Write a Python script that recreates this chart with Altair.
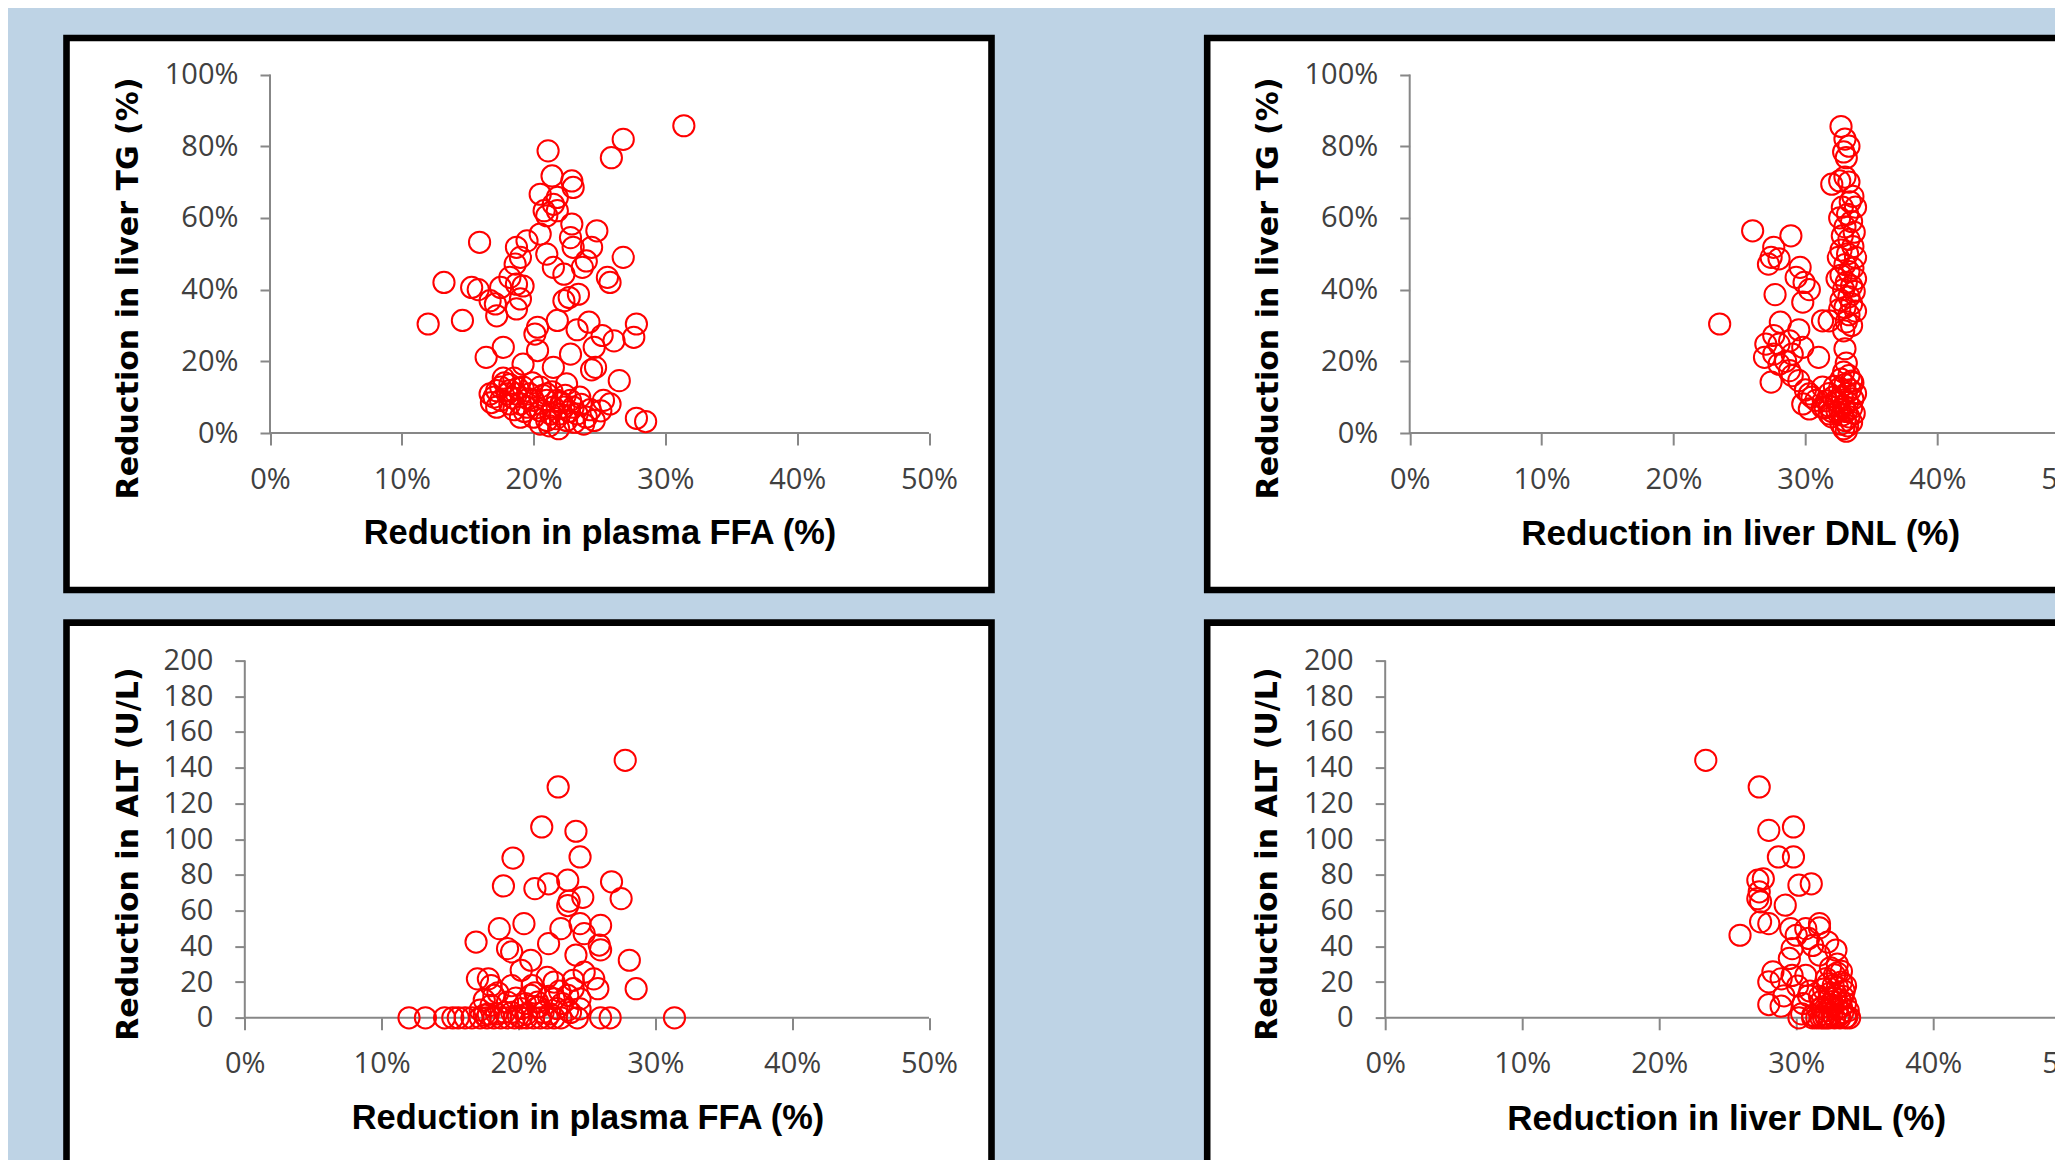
import altair as alt
import pandas as pd

# ---------------- data ----------------
# Panel 1: plasma FFA reduction vs liver TG reduction
ffa_tg_x = [0.314, 0.268, 0.259, 0.211, 0.214, 0.229, 0.230, 0.205, 0.218, 0.208,
            0.218, 0.215, 0.210, 0.248, 0.229, 0.228, 0.205, 0.244, 0.159, 0.268,
            0.187, 0.190, 0.186, 0.195, 0.210, 0.215, 0.223, 0.237, 0.240, 0.230,
            0.256, 0.258, 0.132, 0.153, 0.158, 0.175, 0.187, 0.192, 0.182, 0.167,
            0.171, 0.172, 0.187, 0.190, 0.223, 0.227, 0.234, 0.120, 0.146, 0.203,
            0.218, 0.242, 0.233, 0.278, 0.276, 0.261, 0.252, 0.246, 0.164, 0.177,
            0.203, 0.228, 0.247, 0.244, 0.215, 0.265, 0.192, 0.177, 0.182, 0.170,
            0.172, 0.187, 0.192, 0.200, 0.190, 0.205, 0.210, 0.218, 0.223, 0.225,
            0.219, 0.233, 0.240, 0.251, 0.258, 0.235, 0.180, 0.175, 0.278, 0.285,
            0.210, 0.200, 0.182, 0.195, 0.185, 0.213, 0.228, 0.246, 0.205, 0.225,
            0.175, 0.190, 0.197, 0.215, 0.220, 0.230, 0.167, 0.182, 0.210, 0.205,
            0.238, 0.253, 0.201,
            0.172, 0.178, 0.184, 0.188, 0.193, 0.196, 0.199, 0.202, 0.207, 0.212,
            0.214, 0.217, 0.221, 0.224, 0.227, 0.231, 0.236, 0.243, 0.168, 0.185]
ffa_tg_y = [0.857, 0.819, 0.768, 0.787, 0.717, 0.703, 0.685, 0.666, 0.657, 0.620,
            0.620, 0.638, 0.606, 0.564, 0.583, 0.545, 0.555, 0.518, 0.532, 0.490,
            0.518, 0.490, 0.471, 0.536, 0.499, 0.462, 0.443, 0.462, 0.480, 0.518,
            0.434, 0.420, 0.420, 0.406, 0.400, 0.406, 0.415, 0.410, 0.434, 0.369,
            0.360, 0.327, 0.346, 0.374, 0.369, 0.378, 0.387, 0.304, 0.314, 0.295,
            0.314, 0.309, 0.288, 0.304, 0.267, 0.257, 0.272, 0.239, 0.211, 0.239,
            0.230, 0.220, 0.183, 0.176, 0.183, 0.146, 0.192, 0.153, 0.135, 0.100,
            0.072, 0.109, 0.128, 0.091, 0.044, 0.062, 0.109, 0.091, 0.072, 0.035,
            0.012, 0.053, 0.044, 0.062, 0.081, 0.100, 0.109, 0.091, 0.041, 0.032,
            0.035, 0.044, 0.081, 0.072, 0.153, 0.053, 0.091, 0.035, 0.128, 0.137,
            0.128, 0.081, 0.109, 0.072, 0.053, 0.072, 0.109, 0.118, 0.091, 0.025,
            0.025, 0.091, 0.276,
            0.118, 0.140, 0.098, 0.125, 0.060, 0.095, 0.140, 0.070, 0.105, 0.020,
            0.115, 0.040, 0.085, 0.105, 0.060, 0.030, 0.080, 0.065, 0.085, 0.065]

# Panel 2: liver DNL reduction vs liver TG reduction
dnl_tg_x = [0.235, 0.260, 0.289, 0.276, 0.274, 0.280, 0.272, 0.296, 0.293, 0.299,
            0.303, 0.277, 0.298, 0.281, 0.295, 0.276, 0.270, 0.280, 0.288, 0.276,
            0.269, 0.290, 0.298, 0.280, 0.274, 0.288, 0.295, 0.310, 0.313, 0.318,
            0.303, 0.298, 0.308, 0.313, 0.318, 0.303, 0.313, 0.320, 0.326,
            0.327, 0.330, 0.333, 0.329, 0.331, 0.330, 0.333, 0.336, 0.334, 0.328,
            0.338, 0.332, 0.326, 0.335, 0.330, 0.337, 0.328, 0.333, 0.336, 0.327,
            0.332, 0.338, 0.325, 0.330, 0.336, 0.333, 0.327, 0.338, 0.331, 0.335,
            0.324, 0.329, 0.337, 0.333, 0.327, 0.335, 0.330, 0.338, 0.326, 0.333,
            0.331, 0.335, 0.329, 0.330, 0.331,
            0.329, 0.333, 0.327, 0.335, 0.330, 0.326, 0.334, 0.331, 0.328, 0.336,
            0.323, 0.332, 0.329, 0.335, 0.326, 0.331, 0.337, 0.328, 0.333, 0.320,
            0.330, 0.335, 0.327, 0.332, 0.329, 0.331, 0.324, 0.318, 0.316, 0.321,
            0.322, 0.318, 0.325, 0.320, 0.315, 0.338, 0.336, 0.300, 0.305, 0.290,
            0.285]
dnl_tg_y = [0.304, 0.564, 0.550, 0.518, 0.490, 0.486, 0.471, 0.462, 0.434, 0.420,
            0.400, 0.386, 0.365, 0.309, 0.288, 0.272, 0.248, 0.248, 0.257, 0.220,
            0.211, 0.220, 0.239, 0.192, 0.142, 0.174, 0.146, 0.211, 0.313, 0.313,
            0.109, 0.081, 0.091, 0.128, 0.053, 0.067, 0.072, 0.694, 0.703,
            0.855, 0.820, 0.800, 0.784, 0.768, 0.714, 0.700, 0.660, 0.645, 0.630,
            0.630, 0.610, 0.600, 0.590, 0.575, 0.560, 0.550, 0.540, 0.520, 0.510,
            0.500, 0.490, 0.490, 0.470, 0.460, 0.450, 0.440, 0.430, 0.420, 0.410,
            0.430, 0.400, 0.395, 0.380, 0.370, 0.360, 0.350, 0.340, 0.345, 0.330,
            0.310, 0.300, 0.285, 0.235, 0.195,
            0.170, 0.160, 0.150, 0.145, 0.135, 0.125, 0.120, 0.110, 0.100, 0.095,
            0.090, 0.085, 0.075, 0.070, 0.065, 0.060, 0.055, 0.050, 0.045, 0.045,
            0.035, 0.030, 0.025, 0.020, 0.012, 0.005, 0.060, 0.075, 0.090, 0.100,
            0.130, 0.110, 0.085, 0.060, 0.070, 0.110, 0.140, 0.120, 0.100, 0.160,
            0.200]

# Panel 3: plasma FFA reduction vs ALT reduction (U/L)
ffa_alt_x = [0.278, 0.229, 0.217, 0.242, 0.245, 0.196, 0.189, 0.212, 0.222, 0.236,
             0.268, 0.275, 0.247, 0.236, 0.237, 0.204, 0.186, 0.231, 0.245, 0.260,
             0.248, 0.169, 0.192, 0.195, 0.222, 0.242, 0.259, 0.260, 0.281, 0.209,
             0.202, 0.286, 0.170, 0.178, 0.180, 0.221, 0.226, 0.255, 0.258, 0.248,
             0.240, 0.182, 0.209, 0.236, 0.245, 0.226, 0.192, 0.214, 0.180, 0.202,
             0.228, 0.236, 0.172,
             0.120, 0.132, 0.146, 0.152, 0.156, 0.161, 0.166, 0.172, 0.177, 0.182,
             0.187, 0.192, 0.197, 0.202, 0.206, 0.211, 0.216, 0.221, 0.226, 0.231,
             0.243, 0.260, 0.267, 0.314, 0.184, 0.206, 0.223, 0.175, 0.195, 0.214,
             0.175, 0.185, 0.190, 0.198, 0.205, 0.212, 0.218, 0.222, 0.232, 0.238,
             0.195, 0.210, 0.178, 0.200, 0.215, 0.230, 0.240, 0.245]
ffa_alt_y = [144.1, 129.2, 106.8, 104.4, 90.0, 89.4, 73.8, 72.3, 75.0, 77.0,
             76.1, 66.7, 67.4, 62.8, 65.3, 52.7, 49.9, 49.9, 52.7, 51.7,
             47.1, 42.4, 38.7, 36.9, 41.5, 35.1, 40.7, 38.0, 32.2, 32.2,
             26.6, 16.3, 21.8, 21.8, 18.0, 22.7, 20.0, 21.8, 16.3, 25.5,
             16.3, 12.5, 12.5, 12.5, 10.6, 10.6, 8.8, 8.8, 7.0, 5.2,
             5.2, 4.3, 4.3,
             0, 0, 0, 0, 0, 0, 0, 0, 0, 0,
             0, 0, 0, 0, 0, 0, 0, 0, 0, 0,
             0, 0, 0, 0, 2.2, 2.2, 2.2, 1.5, 3.0, 6.0,
             10, 14, 3, 11, 8, 14, 3, 12, 8, 3,
             18, 18, 2, 1, 6, 15, 21, 5]

# Panel 4: liver DNL reduction vs ALT reduction (U/L)
dnl_alt_x = [0.234, 0.273, 0.280, 0.298, 0.287, 0.298, 0.272, 0.276, 0.302, 0.311,
             0.273, 0.274, 0.272, 0.292, 0.274, 0.259, 0.280, 0.296, 0.307, 0.317,
             0.300, 0.309, 0.297, 0.312, 0.323, 0.317, 0.295, 0.283, 0.280, 0.289,
             0.297, 0.307, 0.280, 0.291, 0.301, 0.309, 0.304, 0.312, 0.289,
             0.325, 0.330, 0.322, 0.333, 0.327, 0.320, 0.335, 0.329, 0.324, 0.332,
             0.318, 0.336, 0.327, 0.330, 0.322, 0.334, 0.326, 0.331, 0.337, 0.315,
             0.320, 0.324, 0.328, 0.332, 0.336, 0.339, 0.318, 0.329, 0.317, 0.330,
             0.325, 0.333, 0.328, 0.302, 0.312,
             0.322, 0.326, 0.330, 0.334, 0.338, 0.319, 0.323, 0.328, 0.333, 0.317,
             0.336, 0.321, 0.305, 0.310]
dnl_alt_y = [144.1, 129.2, 104.9, 106.8, 90.0, 90.0, 77.0, 77.8, 74.2, 75.0,
             70.5, 64.9, 66.7, 63.0, 53.7, 46.2, 52.7, 49.9, 49.9, 52.7,
             46.2, 44.4, 38.7, 40.5, 42.4, 35.1, 33.2, 25.7, 20.1, 21.8,
             23.7, 23.7, 7.4, 12.3, 17.8, 12.3, 2.2, 1.3, 6.5,
             28, 25, 22, 20, 18, 16, 15, 13, 11, 10,
             9, 8, 7, 5, 4, 3, 2, 1, 0.5, 0,
             0, 0, 0, 0, 0, 0, 0, 37.9, 50.3, 30,
             14, 6, 11, 0, 0,
             0, 9, 17, 12, 4, 6, 19, 24, 26, 12,
             18, 2, 8, 15]

x_ticks = [0, 0.1, 0.2, 0.3, 0.4, 0.5]
tg_ticks = [0, 0.2, 0.4, 0.6, 0.8, 1.0]
alt_ticks = [0, 20, 40, 60, 80, 100, 120, 140, 160, 180, 200]

# ---------------- layout ----------------
W, H = 925, 552          # each white framed box (view)
RED = "#FF0000"
GRAY = "#878787"


def panel(xs, ys, xtitle, ytitle, yticks, yfmt, x0px, x1px, ytop, ybot,
          xt_x, xt_y, yt_x, yt_y, xt_size):
    kx = (x1px - x0px) / 0.5
    xdom = [-x0px / kx, (W - x0px) / kx]
    ymax = yticks[-1]
    ky = (ybot - ytop) / ymax
    y0 = -(H - ybot) / ky
    ydom = [y0, y0 + H / ky]

    xscale = alt.Scale(domain=xdom, nice=False, zero=False)
    yscale = alt.Scale(domain=ydom, nice=False, zero=False)
    xaxis = alt.Axis(values=x_ticks, format=".0%", offset=ybot - H,
                     domain=False, grid=False, tickSize=12, tickWidth=2,
                     tickColor=GRAY, labelFont="Open Sans", labelFontSize=29,
                     labelColor="#404040", labelPadding=34, labelBaseline="middle",
                     labelFlush=False, labelOverlap=False,
                     title=xtitle, titleFont="Liberation Sans", titleFontSize=xt_size,
                     titleFontWeight="bold", titleColor="black",
                     titleX=xt_x, titleY=xt_y - ybot, titleAlign="center",
                     titleBaseline="middle")
    yaxis = alt.Axis(values=yticks, format=yfmt, offset=-x0px,
                     domain=False, grid=False, tickSize=10, tickWidth=2,
                     tickColor=GRAY, labelFont="Open Sans", labelFontSize=29,
                     labelColor="#404040", labelPadding=22,
                     labelFlush=False, labelOverlap=False,
                     title=ytitle, titleFont="DejaVu Sans", titleFontSize=30,
                     titleFontWeight="bold", titleColor="black",
                     titleX=yt_x - x0px, titleY=yt_y, titleAngle=270,
                     titleAlign="center", titleBaseline="middle")

    axes_df = pd.DataFrame({"x": [0, 0], "x2": [0.5, 0],
                            "y": [0, 0], "y2": [0, ymax]})
    rules = alt.Chart(axes_df).mark_rule(color=GRAY, strokeWidth=2).encode(
        x=alt.X("x:Q", scale=xscale, axis=xaxis),
        x2="x2:Q",
        y=alt.Y("y:Q", scale=yscale, axis=yaxis),
        y2="y2:Q",
    )
    df = pd.DataFrame({"x": xs, "y": ys})
    pts = alt.Chart(df).mark_point(shape="circle", filled=False, color=RED,
                                   size=450, strokeWidth=2, opacity=1).encode(
        x=alt.X("x:Q", scale=xscale, axis=xaxis),
        y=alt.Y("y:Q", scale=yscale, axis=yaxis),
    )
    return alt.layer(rules, pts).properties(width=W, height=H)


tl = panel(ffa_tg_x, ffa_tg_y, "Reduction in plasma  FFA (%)",
           "Reduction  in  liver  TG  (%)", tg_ticks, ".0%",
           203.5, 862.5, 36.5, 395, 533, 495, 61.5, 250, 34.4)
tr = panel(dnl_tg_x, dnl_tg_y, "Reduction in liver DNL (%)",
           "Reduction  in  liver  TG  (%)", tg_ticks, ".0%",
           202.5, 862, 36.5, 395, 533, 495, 61.5, 250, 35)
bl = panel(ffa_alt_x, ffa_alt_y, "Reduction in plasma  FFA (%)",
           "Reduction  in  ALT  (U/L)", alt_ticks, "d",
           178.3, 862.5, 37.8, 395.2, 521, 496, 61.5, 231, 34.4)
br = panel(dnl_alt_x, dnl_alt_y, "Reduction in liver DNL (%)",
           "Reduction  in  ALT  (U/L)", alt_ticks, "d",
           178, 863, 37.8, 395.2, 519, 496, 60, 231, 35)

# The visible window is 2047 x 1152 (page minus its 8px margin); the right and
# bottom panels run past it and are cut, as in the reference.
PAD_L, PAD_T = 58.5, 30
chart = alt.vconcat(
    alt.hconcat(tl, tr, spacing=207.7),
    alt.hconcat(bl, br, spacing=207.7),
    spacing=24.6,
).properties(
    background="#BED3E5",
    autosize=alt.AutoSizeParams(type="none"),
    padding={"left": PAD_L, "top": PAD_T, "right": 2047 - PAD_L, "bottom": 1152 - PAD_T},
).configure_view(
    fill="white", stroke="black", strokeWidth=6.6, cornerRadius=0
)

chart.save("out.html", embed_options={"renderer": "svg", "actions": False})
